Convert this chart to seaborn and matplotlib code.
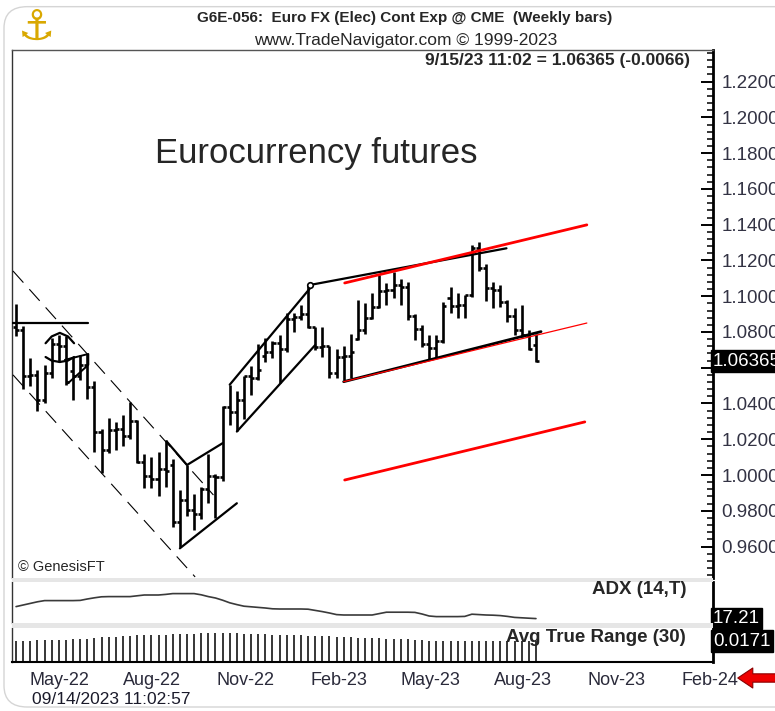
import numpy as np
import pandas as pd
import matplotlib
matplotlib.use("Agg")
import matplotlib.pyplot as plt
import matplotlib.dates as mdates
from matplotlib.ticker import FixedLocator, MultipleLocator
from matplotlib.patches import Rectangle, FancyBboxPatch
import seaborn as sns

sns.set_style("white")
plt.rcParams['font.family'] = ['Liberation Sans', 'DejaVu Sans']

# weekly bars, Euro FX continuous futures
weeks = pd.date_range("2022-04-18", periods=74, freq="7D")
opens = [1.0825, 1.0810, 1.0555, 1.0560, 1.0420, 1.0570, 1.0730, 1.0720, 1.0580, 1.0555,
         1.0615, 1.0490, 1.0240, 1.0140, 1.0250, 1.0260, 1.0220, 1.0300, 1.0070, 0.9995,
         0.9975, 1.0035, 1.0055, 0.9735, 0.9860, 0.9805, 0.9780, 0.9920, 0.9995, 0.9990,
         1.0380, 1.0350, 1.0420, 1.0555, 1.0540, 1.0665, 1.0690, 1.0740, 1.0705, 1.0870,
         1.0885, 1.0900, 1.0825, 1.0715, 1.0720, 1.0570, 1.0660, 1.0665, 1.0760, 1.0810,
         1.0880, 1.0940, 1.1030, 1.1035, 1.1060, 1.1050, 1.0890, 1.0815, 1.0730, 1.0710,
         1.0750, 1.0990, 1.0945, 1.0950, 1.1005, 1.1270, 1.1160, 1.1045, 1.1035, 1.0970,
         1.0890, 1.0810, 1.0785, 1.0725]
highs = [1.0956, 1.0835, 1.0652, 1.0590, 1.0615, 1.0765, 1.0785, 1.0775, 1.0660, 1.0670,
         1.0675, 1.0525, 1.0260, 1.0320, 1.0295, 1.0335, 1.0410, 1.0310, 1.0120, 1.0100,
         1.0130, 1.0195, 1.0088, 0.9915, 1.0058, 0.9895, 0.9935, 1.0120, 1.0005, 1.0385,
         1.0505, 1.0470, 1.0555, 1.0608, 1.0730, 1.0765, 1.0750, 1.0785, 1.0905, 1.0905,
         1.0950, 1.1063, 1.0830, 1.0825, 1.0720, 1.0705, 1.0720, 1.0790, 1.0980, 1.0961,
         1.1017, 1.1119, 1.1072, 1.1137, 1.1095, 1.1082, 1.0900, 1.0839, 1.0783, 1.0785,
         1.0970, 1.1053, 1.1017, 1.1007, 1.1285, 1.1305, 1.1180, 1.1080, 1.1065, 1.0980,
         1.0933, 1.0951, 1.0811, 1.0790]
lows = [1.0780, 1.0480, 1.0500, 1.0360, 1.0400, 1.0545, 1.0630, 1.0505, 1.0420, 1.0530,
        1.0425, 1.0130, 1.0010, 1.0125, 1.0140, 1.0165, 1.0200, 1.0065, 0.9930, 0.9930,
        0.9885, 0.9935, 0.9710, 0.9595, 0.9770, 0.9690, 0.9755, 0.9845, 0.9760, 0.9965,
        1.0280, 1.0245, 1.0315, 1.0450, 1.0530, 1.0630, 1.0655, 1.0515, 1.0690, 1.0800,
        1.0865, 1.0820, 1.0700, 1.0660, 1.0545, 1.0545, 1.0530, 1.0545, 1.0755, 1.0790,
        1.0870, 1.0935, 1.0951, 1.0989, 1.0951, 1.0867, 1.0756, 1.0715, 1.0644, 1.0653,
        1.0737, 1.0905, 1.0877, 1.0877, 1.0995, 1.1140, 1.0975, 1.0935, 1.0942, 1.0858,
        1.0783, 1.0774, 1.0700, 1.0630]
closes = [1.0810, 1.0555, 1.0560, 1.0420, 1.0570, 1.0730, 1.0720, 1.0520, 1.0555, 1.0615,
          1.0490, 1.0240, 1.0140, 1.0250, 1.0260, 1.0220, 1.0300, 1.0070, 0.9995, 0.9975,
          1.0035, 1.0025, 0.9735, 0.9860, 0.9805, 0.9780, 0.9920, 0.9995, 0.9990, 1.0380,
          1.0350, 1.0420, 1.0555, 1.0540, 1.0590, 1.0690, 1.0740, 1.0705, 1.0870, 1.0885,
          1.0900, 1.0825, 1.0715, 1.0720, 1.0570, 1.0660, 1.0665, 1.0690, 1.0810, 1.0880,
          1.0940, 1.1030, 1.1035, 1.1060, 1.1050, 1.0890, 1.0815, 1.0730, 1.0710, 1.0750,
          1.0945, 1.0945, 1.0950, 1.1005, 1.1270, 1.1160, 1.1045, 1.1035, 1.0970, 1.0890,
          1.0810, 1.0785, 1.07025, 1.06365]
adx = [23.2, 24.0, 24.8, 25.6, 26.2, 26.2, 26.2, 26.2, 26.2, 26.3,
       27.0, 27.6, 28.1, 28.2, 28.2, 28.2, 28.2, 28.6, 29.0, 29.0,
       29.0, 29.3, 29.7, 29.7, 29.7, 29.7, 29.1, 28.2, 27.5, 26.4,
       25.1, 24.2, 23.4, 23.1, 22.8, 22.5, 22.1, 22.0, 22.0, 22.0,
       22.0, 21.9, 21.3, 20.7, 20.0, 19.2, 19.0, 19.0, 19.0, 19.0,
       19.0, 19.7, 20.4, 20.4, 20.4, 20.4, 20.3, 19.5, 18.5, 18.2,
       18.2, 18.2, 18.2, 18.3, 19.4, 19.2, 19.0, 18.9, 18.7, 18.3,
       17.8, 17.6, 17.4, 17.21]
atr = [0.0174, 0.0174, 0.0175, 0.0176, 0.0176, 0.0178, 0.0180, 0.0182, 0.0184, 0.0186,
       0.0188, 0.0195, 0.0200, 0.0205, 0.0207, 0.0212, 0.0214, 0.0216, 0.0218, 0.0220,
       0.0220, 0.0222, 0.0225, 0.0228, 0.0230, 0.0230, 0.0234, 0.0236, 0.0236, 0.0236,
       0.0235, 0.0234, 0.0232, 0.0230, 0.0228, 0.0226, 0.0224, 0.0222, 0.0220, 0.0218,
       0.0216, 0.0214, 0.0212, 0.0210, 0.0208, 0.0206, 0.0203, 0.0200, 0.0198, 0.0196,
       0.0194, 0.0192, 0.0190, 0.0188, 0.0186, 0.0184, 0.0180, 0.0177, 0.0175, 0.0173,
       0.0172, 0.0171, 0.0170, 0.0170, 0.0170, 0.0171, 0.0172, 0.0172, 0.0172, 0.0172,
       0.0172, 0.0172, 0.0171, 0.0171]

last_price = 1.06365
last_adx = 17.21
last_atr = 0.0171

price_ticks = [0.96, 0.98, 1.00, 1.02, 1.04, 1.06, 1.08, 1.10, 1.12, 1.14, 1.16, 1.18, 1.20, 1.22]
month_ticks = ["2022-05-01", "2022-08-01", "2022-11-01", "2023-02-01",
               "2023-05-01", "2023-08-01", "2023-11-01", "2024-02-01"]

# hand-drawn analysis lines (date, price)
flat_dates, flat_prices = ["2022-04-14", "2022-06-28"], [1.085, 1.085]
down_up_dates, down_up_prices = ["2022-04-15", "2022-10-29"], [1.1141, 0.9888]
down_lo_dates, down_lo_prices = ["2022-04-15", "2022-10-11"], [1.056, 0.943]
dome_dates = ["2022-05-17", "2022-05-23", "2022-05-31", "2022-06-08", "2022-06-14"]
dome_top = [1.0737, 1.0775, 1.0795, 1.0775, 1.0737]
dome_bottom = [1.0660, 1.0640, 1.0632, 1.0640, 1.0660]
flag_dates = ["2022-06-05", "2022-06-28", "2022-06-28", "2022-06-08"]
flag_prices = [1.0644, 1.0677, 1.0616, 1.0513]
wedge_dates, wedge_prices = ["2022-09-13", "2022-10-03", "2022-11-07"], [1.0188, 1.0056, 1.0178]
wedge_base_dates, wedge_base_prices = ["2022-09-26", "2022-11-21"], [0.959, 0.9842]
rally_up_dates, rally_up_prices = ["2022-11-14", "2023-02-01"], [1.0505, 1.1045]
rally_lo_dates, rally_lo_prices = ["2022-11-21", "2023-02-06"], [1.0243, 1.0727]
top_black_dates, top_black_prices = ["2023-02-01", "2023-08-13"], [1.1063, 1.1268]
top_red_dates, top_red_prices = ["2023-03-07", "2023-10-31"], [1.1074, 1.1399]
base_black_dates, base_black_prices = ["2023-03-06", "2023-09-16"], [1.0522, 1.0802]
base_red_dates, base_red_prices = ["2023-03-06", "2023-10-31"], [1.0522, 1.085]
target_dates, target_prices = ["2023-03-07", "2023-10-29"], [0.9972, 1.0297]


def dnum(d):
    return mdates.date2num(pd.to_datetime(d))


fig = plt.figure(figsize=(7.75, 7.11), dpi=100)
L, W = 12 / 775, 701 / 775
ax = fig.add_axes([L, 1 - 578 / 711, W, 528 / 711])
ax_adx = fig.add_axes([L, 1 - 623 / 711, W, 41 / 711], sharex=ax)
ax_atr = fig.add_axes([L, 1 - 662 / 711, W, 34 / 711], sharex=ax)

xw = dnum(weeks)
tick = 3.0
ax.vlines(xw, lows, highs, color="black", lw=1.9, zorder=2)
ax.hlines(opens, xw - tick, xw, color="black", lw=1.9, zorder=2)
ax.hlines(closes, xw, xw + tick, color="black", lw=1.9, zorder=2)

# analysis lines
ax.plot(dnum(flat_dates), flat_prices, color="black", lw=1.6, zorder=3)
ax.plot(dnum(down_up_dates), down_up_prices, color="black", lw=0.8, ls=(0, (14, 8)), zorder=3)
ax.plot(dnum(down_lo_dates), down_lo_prices, color="black", lw=0.8, ls=(0, (14, 8)), zorder=3)
ax.plot(dnum(dome_dates), dome_top, color="black", lw=1.6, zorder=3)
ax.plot(dnum(dome_dates), dome_bottom, color="black", lw=1.6, zorder=3)
ax.plot(dnum(flag_dates), flag_prices, color="black", lw=1.4, zorder=3)
ax.plot(dnum(wedge_dates), wedge_prices, color="black", lw=1.6, zorder=3)
ax.plot(dnum(wedge_base_dates), wedge_base_prices, color="black", lw=1.6, zorder=3)
ax.plot(dnum(rally_up_dates), rally_up_prices, color="black", lw=1.6, zorder=3)
ax.plot(dnum(rally_lo_dates), rally_lo_prices, color="black", lw=1.6, zorder=3)
ax.plot(dnum(top_black_dates), top_black_prices, color="black", lw=1.6, zorder=3)
ax.plot(dnum(top_black_dates[:1]), top_black_prices[:1], marker="o", ms=4, mfc="white",
        mec="black", mew=1.2, zorder=3)
ax.plot(dnum(base_black_dates), base_black_prices, color="black", lw=2.0, zorder=3)
ax.plot(dnum(top_red_dates), top_red_prices, color="#ff0000", lw=2.0, zorder=4)
ax.plot(dnum(base_red_dates), base_red_prices, color="#ff0000", lw=0.9, zorder=4)
ax.plot(dnum(target_dates), target_prices, color="#ff0000", lw=2.0, zorder=4)

ax.set_xlim(dnum("2022-04-14"), dnum("2024-03-03"))
ax.set_ylim(0.9424, 1.2377)
ax.yaxis.tick_right()
ax.yaxis.set_major_locator(FixedLocator(price_ticks))
ax.yaxis.set_minor_locator(MultipleLocator(0.004))
# the 1.0600 label sits under the last-price box, so it is left blank
ax.set_yticklabels(["" if abs(v - 1.06) < 1e-9 else f"{v:.4f}" for v in price_ticks])
ax.tick_params(axis="y", which="major", direction="in", length=9, width=1.4, color="black",
               labelsize=13.5, labelcolor="#333344", pad=6, left=False, right=True)
ax.tick_params(axis="y", which="minor", direction="in", length=4.5, width=1.1, color="black",
               left=False, right=True)
ax.tick_params(axis="x", bottom=False, labelbottom=False)
ax.text(1.0, last_price, f"{last_price:.5f}", transform=ax.get_yaxis_transform(),
        ha="left", va="center", color="white", fontsize=13.5, zorder=10, clip_on=False,
        bbox=dict(boxstyle="square,pad=0.12", fc="black", ec="black"))

# ADX panel
sns.lineplot(x=xw, y=adx, ax=ax_adx, color="#3a3a3a", lw=1.2)
ax_adx.set_ylim(15, 35.5)
ax_adx.set_yticks([])
ax_adx.tick_params(axis="x", bottom=False, labelbottom=False)
ax_adx.set_xlabel("")
ax_adx.set_ylabel("")
ax_adx.text(1.0, last_adx, f"{last_adx:.2f}", transform=ax_adx.get_yaxis_transform(),
            ha="left", va="center", color="white", fontsize=13.5, zorder=10, clip_on=False,
            bbox=dict(boxstyle="square,pad=0.12", fc="black", ec="black"))

# ATR panel
ax_atr.vlines(xw, 0, atr, color="black", lw=1.1)
ax_atr.set_ylim(0, 0.0277)
ax_atr.set_yticks([])
ax_atr.set_xticks(dnum(month_ticks))
ax_atr.set_xticklabels(pd.to_datetime(month_ticks).strftime("%b-%y"))
ax_atr.tick_params(axis="x", length=0, pad=7, labelsize=13, labelcolor="#2a2a3a")
for lab in ax_atr.get_xticklabels():
    lab.set_horizontalalignment("left")
ax_atr.text(1.0, last_atr, f"{last_atr:.4f}", transform=ax_atr.get_yaxis_transform(),
            ha="left", va="center", color="white", fontsize=13.5, zorder=10, clip_on=False,
            bbox=dict(boxstyle="square,pad=0.12", fc="black", ec="black"))

for a in (ax, ax_adx, ax_atr):
    a.set_facecolor("white")
    a.spines["left"].set_color("#333333")
    a.spines["left"].set_linewidth(1.0)
    a.spines["right"].set_color("black")
    a.spines["right"].set_linewidth(2.0)
    a.spines["top"].set_visible(False)
    a.spines["bottom"].set_visible(False)
ax.spines["top"].set_visible(True)
ax.spines["top"].set_color("#555555")
ax.spines["top"].set_linewidth(1.0)
ax_atr.spines["bottom"].set_visible(True)
ax_atr.spines["bottom"].set_color("black")
ax_atr.spines["bottom"].set_linewidth(1.5)

# grey bands between the panels
for y0, h in ((578, 4), (623, 5)):
    fig.patches.append(Rectangle((L, 1 - (y0 + h) / 711), W, h / 711,
                                 transform=fig.transFigure, fc="#e6e6e6", ec="none"))

# texts
fig.text(405 / 775, 1 - 18 / 711, "G6E-056:  Euro FX (Elec) Cont Exp @ CME  (Weekly bars)",
         ha="center", va="center", fontsize=11, fontweight="bold")
fig.text(406 / 775, 1 - 40 / 711, "www.TradeNavigator.com \u00a9 1999-2023",
         ha="center", va="center", fontsize=12.5)
fig.text(690 / 775, 1 - 60 / 711, "9/15/23 11:02 = 1.06365 (-0.0066)",
         ha="right", va="center", fontsize=12.5, fontweight="bold")
fig.text(155 / 775, 1 - 153 / 711, "Eurocurrency futures", ha="left", va="center", fontsize=25)
fig.text(18 / 775, 1 - 567 / 711, "\u00a9 GenesisFT", ha="left", va="center", fontsize=10.5)
fig.text(686 / 775, 1 - 590 / 711, "ADX (14,T)", ha="right", va="center",
         fontsize=13.5, fontweight="bold")
fig.text(686 / 775, 1 - 637 / 711, "Avg True Range (30)", ha="right", va="center",
         fontsize=13.5, fontweight="bold")
fig.text(32 / 775, 1 - 700 / 711, "09/14/2023 11:02:57", ha="left", va="center",
         fontsize=12.5, color="#1a1a2a")
fig.text(37 / 775, 1 - 28 / 711, "\u2693", ha="center", va="center", fontsize=30,
         color="#d9a800", family=["DejaVu Sans"])

# red arrow pointing at the last date label
ax_atr.annotate("", xy=(735 / 775, 1 - 678 / 711), xytext=(790 / 775, 1 - 678 / 711),
                xycoords="figure fraction", textcoords="figure fraction",
                arrowprops=dict(arrowstyle="simple,head_length=0.9,head_width=1.2,tail_width=0.5",
                                fc="#ee0000", ec="#8b0000", lw=0.8, mutation_scale=12))

# screenshot frame
fig.patches.append(FancyBboxPatch((4 / 775, 4 / 711), 1.2, 0.985,
                                  boxstyle="round,pad=0,rounding_size=0.03",
                                  transform=fig.transFigure, fc="none", ec="#d5d5d5", lw=1.0))

fig.savefig("out.png", dpi=100)
